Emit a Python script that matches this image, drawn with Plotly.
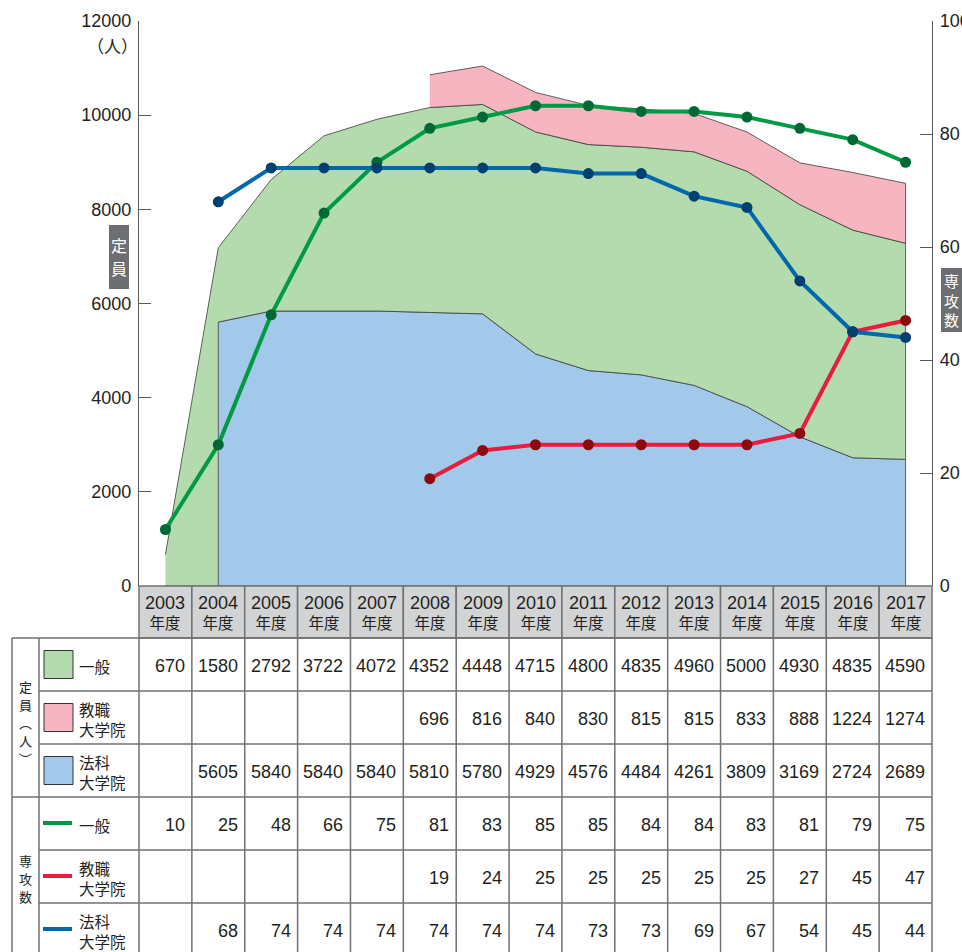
import plotly.graph_objects as go

# ---- data -----------------------------------------------------------------
years = list(range(2003, 2018))

# 定員（人）
cap_general = [670, 1580, 2792, 3722, 4072, 4352, 4448, 4715, 4800, 4835, 4960, 5000, 4930, 4835, 4590]
cap_teacher = [None, None, None, None, None, 696, 816, 840, 830, 815, 815, 833, 888, 1224, 1274]
cap_law = [None, 5605, 5840, 5840, 5840, 5810, 5780, 4929, 4576, 4484, 4261, 3809, 3169, 2724, 2689]

# 専攻数
maj_general = [10, 25, 48, 66, 75, 81, 83, 85, 85, 84, 84, 83, 81, 79, 75]
maj_teacher = [None, None, None, None, None, 19, 24, 25, 25, 25, 25, 25, 27, 45, 47]
maj_law = [None, 68, 74, 74, 74, 74, 74, 74, 73, 73, 69, 67, 54, 45, 44]

cap_ticks = [0, 2000, 4000, 6000, 8000, 10000, 12000]
maj_ticks = [0, 20, 40, 60, 80, 100]

# ---- styling ----------------------------------------------------------------
FONT = "Liberation Sans, Noto Sans CJK JP, sans-serif"
JP = "Noto Sans CJK JP, sans-serif"
TXT = "#231f20"
AXC = "#58595b"
GRID = "#707173"

FILL_GENERAL = "#b3dbae"
FILL_TEACHER = "#f7b5c2"
FILL_LAW = "#a2c8ea"

LINE_GENERAL, MK_GENERAL = "#009a45", "#006834"
LINE_TEACHER, MK_TEACHER = "#e81c3d", "#8a0a0e"
LINE_LAW, MK_LAW = "#0068ab", "#003f72"

W, H = 962, 952
PL, PR, PT, PB = 139, 932, 21, 586  # plot area in pixels


def fx(px):
    return (px - PL) / (PR - PL)


def fy(py):
    return (PB - py) / (PB - PT)


# ---- stacked areas (bottom to top) -------------------------------------------
layers = [cap_law, cap_general, cap_teacher]
fills = [FILL_LAW, FILL_GENERAL, FILL_TEACHER]


def cum(i, upto):
    return sum(layers[j][i] for j in range(upto) if layers[j][i] is not None)


def cum_prev(i, upto):
    return sum(layers[j][i] for j in range(upto)
               if layers[j][i] is not None and layers[j][i - 1] is not None)


fig = go.Figure()

for L, col in enumerate(fills):
    act = [i for i, v in enumerate(layers[L]) if v is not None]
    xs, ys = [], []
    for i in act:
        xs.append(years[i])
        ys.append(cum(i, L + 1))
    for i in reversed(act):
        xs.append(years[i])
        ys.append(cum(i, L))
        if i > act[0]:
            b = cum_prev(i, L)
            if b != cum(i, L):
                xs.append(years[i])
                ys.append(b)
    fig.add_trace(go.Scatter(
        x=xs, y=ys, mode="lines", fill="toself", fillcolor=col,
        line=dict(color="#3c3c3c", width=0.8), hoverinfo="skip",
        showlegend=False, xaxis="x", yaxis="y"))

# ---- lines: number of majors -------------------------------------------------
for vals, lc, mc in [(maj_general, LINE_GENERAL, MK_GENERAL),
                     (maj_teacher, LINE_TEACHER, MK_TEACHER),
                     (maj_law, LINE_LAW, MK_LAW)]:
    fig.add_trace(go.Scatter(
        x=years, y=vals, mode="lines+markers",
        line=dict(color=lc, width=4),
        marker=dict(color=mc, size=11),
        connectgaps=False, showlegend=False, xaxis="x", yaxis="y2"))

shapes = []
annotations = []


def ann(text, x, y, size=18, color=TXT, xanchor="center", family=FONT, align="center"):
    annotations.append(dict(
        text=text, x=fx(x), y=fy(y), xref="paper", yref="paper",
        showarrow=False, xanchor=xanchor, yanchor="middle", borderpad=0,
        align=align, font=dict(size=size, color=color, family=family)))


def rect(x0, y0, x1, y1, fill, line="#333333", lw=1.0):
    shapes.append(dict(type="rect", xref="paper", yref="paper",
                       x0=fx(x0), x1=fx(x1), y0=fy(y0), y1=fy(y1),
                       fillcolor=fill, line=dict(color=line, width=lw),
                       layer="above"))


def hline(x0, x1, y, color=GRID, lw=1.5):
    shapes.append(dict(type="line", xref="paper", yref="paper",
                       x0=fx(x0), x1=fx(x1), y0=fy(y), y1=fy(y),
                       line=dict(color=color, width=lw), layer="above"))


def vline(x, y0, y1, color=GRID, lw=1.5):
    shapes.append(dict(type="line", xref="paper", yref="paper",
                       x0=fx(x), x1=fx(x), y0=fy(y0), y1=fy(y1),
                       line=dict(color=color, width=lw), layer="above"))


# ---- axis captions ---------------------------------------------------------
ann("（人）", 112, 46, size=17, family=JP)
rect(109, 225, 129, 289, "#6d6e71", line="#6d6e71", lw=0)
ann("定", 119, 245, size=16, color="white", family=JP)
ann("員", 119, 268, size=16, color="white", family=JP)
rect(941, 268, 962, 332, "#6d6e71", line="#6d6e71", lw=0)
ann("専<br>攻<br>数", 951, 300, size=15, color="white", family=JP)

# ---- table ------------------------------------------------------------------
ncol = len(years)
cw = (PR - PL) / ncol
HEAD_TOP, HEAD_BOT = 586, 638
ROW_H = 53
row_tops = [HEAD_BOT + k * ROW_H for k in range(6)]
TABLE_BOT = HEAD_BOT + 6 * ROW_H + 10

# header cells
for c, yr in enumerate(years):
    x0 = PL + c * cw
    rect(x0, HEAD_TOP, x0 + cw, HEAD_BOT, "#d1d3d4", line=GRID, lw=1.5)
    ann(f"<span style='font-size:18px'>{yr}</span><br>年度", x0 + cw / 2, 612, size=15.5)

# grid
hline(12, PR, HEAD_BOT)
for k in range(1, 6):
    y = row_tops[k]
    hline(12 if k == 3 else 39, PR, y)
vline(12, HEAD_BOT, TABLE_BOT)
vline(39, HEAD_BOT, TABLE_BOT)
for c in range(ncol + 1):
    vline(PL + c * cw, HEAD_BOT, TABLE_BOT)

# group captions (vertical text, one glyph per line)
for ch, y in zip(["定", "員", "︵", "人", "︶"], [686, 704, 722, 740, 758]):
    ann(ch, 25, y, size=13, family=JP)
for ch, y in zip(["専", "攻", "数"], [860, 878, 896]):
    ann(ch, 25, y, size=13, family=JP)

row_labels = ["一般", "教職<br>大学院", "法科<br>大学院"]
row_series = [cap_general, cap_teacher, cap_law, maj_general, maj_teacher, maj_law]

for k in range(6):
    yc = row_tops[k] + ROW_H / 2
    if k < 3:
        rect(44, yc - 14, 73, yc + 14, fills[[1, 2, 0][k]], line="#333333", lw=1)
    else:
        lc = [LINE_GENERAL, LINE_TEACHER, LINE_LAW][k - 3]
        hline(43, 72, yc - 0.5, color=lc, lw=4)
    ann(row_labels[k % 3], 78, yc + 1, size=15.5, xanchor="left", family=JP, align="left")
    for c, v in enumerate(row_series[k]):
        if v is not None:
            ann(str(v), PL + (c + 1) * cw - 6, yc + 1, size=18, xanchor="right")

# ---- layout ------------------------------------------------------------------
axis_common = dict(
    showgrid=False, zeroline=False, showline=True, linecolor=AXC, linewidth=1.3,
    ticks="inside", ticklen=12, tickwidth=1.3, tickcolor=AXC, automargin=False,
    tickfont=dict(size=18, color=TXT, family=FONT), fixedrange=True)

fig.update_layout(
    width=W, height=H, autosize=False,
    margin=dict(l=PL, r=W - PR, t=PT, b=H - PB, pad=0, autoexpand=False),
    paper_bgcolor="white", plot_bgcolor="rgba(0,0,0,0)",
    showlegend=False,
    xaxis=dict(range=[years[0] - 0.5, years[-1] + 0.5], visible=False,
               fixedrange=True, automargin=False),
    yaxis=dict(range=[0, 12000], tickvals=cap_ticks,
               ticktext=[str(t) for t in cap_ticks], ticklabelstandoff=3, **axis_common),
    yaxis2=dict(range=[0, 100], tickvals=maj_ticks,
                ticktext=[str(t) for t in maj_ticks], overlaying="y", side="right",
                ticklabelstandoff=3, **axis_common),
    shapes=shapes,
    annotations=annotations,
)

fig.write_html("out.html")
